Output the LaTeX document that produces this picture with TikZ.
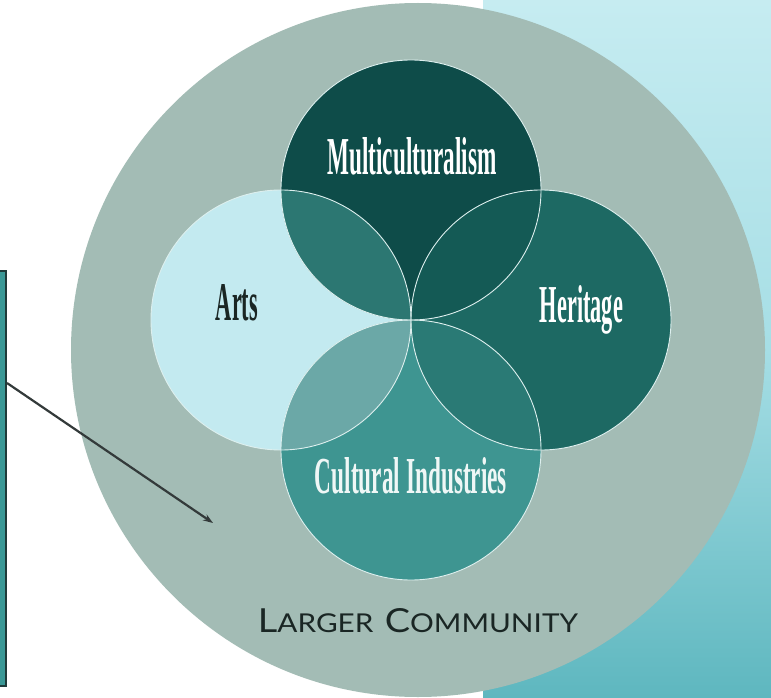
\documentclass[tikz,border=0pt]{standalone}
\usepackage{fontspec}
\setmainfont{Liberation Serif}
\newfontfamily\labelfont{Liberation Serif}
\newfontfamily\commfont{Lato}
\usetikzlibrary{arrows.meta}
\definecolor{lcgray}{HTML}{A3BCB5}
\definecolor{artsc}{HTML}{C3EAF0}
\definecolor{multic}{HTML}{0E4C49}
\definecolor{heritc}{HTML}{1D6963}
\definecolor{cultc}{HTML}{3E9591}
\definecolor{amc}{HTML}{2C7772}
\definecolor{mhc}{HTML}{145A55}
\definecolor{acc}{HTML}{6BA8A7}
\definecolor{hcc}{HTML}{2A7A75}
\definecolor{outc}{HTML}{DDEFEE}
\definecolor{cyantop}{HTML}{C6ECF1}
\definecolor{cyanmid}{HTML}{A6DEE5}
\definecolor{cyanbot}{HTML}{5EB7BF}
\definecolor{boxfill}{HTML}{3A9896}
\definecolor{boxline}{HTML}{1F3B3A}
\definecolor{arrowc}{HTML}{333A3A}
\definecolor{darktext}{HTML}{1A2624}
\tikzset{
  venn/.style={draw=outc, line width=0.9pt},
  lbl/.style={inner sep=0pt, outer sep=0pt, anchor=base},
}
\newcommand{\bigL}[1]{{\fontsize{30}{30}\selectfont #1}}
\newcommand{\smL}[1]{{\fontsize{23.5}{23.5}\selectfont #1}}
\begin{document}
\begin{tikzpicture}[x=1pt, y=-1pt]
\useasboundingbox (0,0) rectangle (771,698);
\fill[white] (0,0) rectangle (771,698);
% cyan background panel
\shade[top color=cyantop, bottom color=cyanbot, middle color=cyanmid] (483,0) rectangle (771,698);
% larger community circle
\fill[lcgray] (418,350) circle[radius=347];
% left box (partly visible)
\node[draw=boxline, fill=boxfill, line width=2pt, minimum width=14pt, minimum height=415pt, inner sep=0pt, anchor=north east] (leftbox) at (7,270) {};
\coordinate (arrowstart) at (7,383);
\coordinate (arrowend) at (213,523);
\draw[arrowc, line width=2.2pt, -{Stealth[length=10pt,width=7pt]}] (arrowstart) -- (arrowend);
% Venn circles
\coordinate (cm) at (411,190);
\coordinate (ca) at (281,320);
\coordinate (ch) at (541,320);
\coordinate (cc) at (411,450);
\def\rr{130}
\fill[artsc] (ca) circle[radius=\rr];
\fill[multic] (cm) circle[radius=\rr];
\fill[heritc] (ch) circle[radius=\rr];
\fill[cultc] (cc) circle[radius=\rr];
\begin{scope}
  \clip (ca) circle[radius=\rr];
  \fill[amc] (cm) circle[radius=\rr];
  \fill[acc] (cc) circle[radius=\rr];
\end{scope}
\begin{scope}
  \clip (ch) circle[radius=\rr];
  \fill[mhc] (cm) circle[radius=\rr];
  \fill[hcc] (cc) circle[radius=\rr];
\end{scope}
\draw[venn] (ca) circle[radius=\rr];
\draw[venn] (cm) circle[radius=\rr];
\draw[venn] (ch) circle[radius=\rr];
\draw[venn] (cc) circle[radius=\rr];
% labels
\node[lbl, text=white] (multi) at (412,175) {\resizebox{169pt}{37pt}{\labelfont\bfseries Multiculturalism}};
\node[lbl, text=darktext] (arts) at (237,320) {\resizebox{42pt}{36pt}{\labelfont\bfseries Arts}};
\node[lbl, text=white] (herit) at (581.5,322) {\resizebox{83pt}{37pt}{\labelfont\bfseries Heritage}};
\node[lbl, text=white!92!cultc] (cult) at (411,493) {\resizebox{192pt}{36pt}{\labelfont\bfseries Cultural Industries}};
\node[lbl, text=darktext] (larger) at (418,632) {\resizebox{320pt}{24pt}{\commfont\bigL{L}\smL{ARGER}\hspace{9pt}\bigL{C}\smL{OMMUNITY}}};
\end{tikzpicture}
\end{document}
